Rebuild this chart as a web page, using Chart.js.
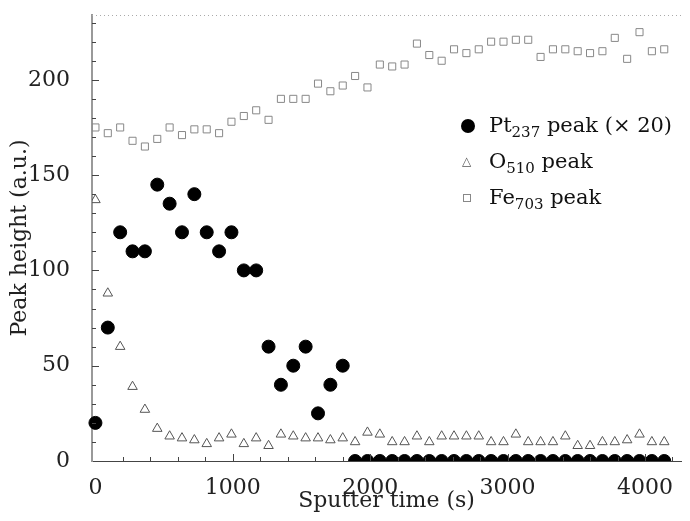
<!DOCTYPE html>
<html>
<head>
<meta charset="utf-8">
<script src="https://cdn.jsdelivr.net/npm/chart.js@4"></script>
<style>
  body { margin: 0; background: #fff; }
  #marco { position: relative; width: 690px; height: 521px; }
  #leyenda { position: absolute; left: 461px; top: 107px; font-family: "DejaVu Serif", serif; font-size: 21px; color: #111; line-height: 36px; }
  #leyenda sub { font-size: 15px; vertical-align: -5px; line-height: 0; }
  .simbolo { display: inline-block; width: 28px; text-align: left; }
  .circ { display: inline-block; width: 14px; height: 14px; border-radius: 50%; background: #000; vertical-align: -1px; }
  .tri { display: inline-block; font-size: 12px; color: #555; vertical-align: 3px; margin-left: 1px; }
  .cuad { display: inline-block; width: 6px; height: 6px; border: 1px solid #888; vertical-align: 2px; margin-left: 2px; }
</style>
</head>
<body>
<div id="marco">
  <canvas id="grafico" width="690" height="521"></canvas>
  <div id="leyenda">
    <div><span class="simbolo"><span class="circ"></span></span>Pt<sub>237</sub> peak (× 20)</div>
    <div><span class="simbolo"><span class="tri">△</span></span>O<sub>510</sub> peak</div>
    <div><span class="simbolo"><span class="cuad"></span></span>Fe<sub>703</sub> peak</div>
  </div>
</div>
<script>
const tiempos = [0, 90, 180, 270, 360, 450, 540, 630, 720, 810,
    900, 990, 1080, 1170, 1260, 1350, 1440, 1530, 1620, 1710,
    1800, 1890, 1980, 2070, 2160, 2250, 2340, 2430, 2520, 2610,
    2700, 2790, 2880, 2970, 3060, 3150, 3240, 3330, 3420, 3510,
    3600, 3690, 3780, 3870, 3960, 4050, 4140];

const picoPt = [20, 70, 120, 110, 110, 145, 135, 120, 140, 120,
    110, 120, 100, 100, 60, 40, 50, 60, 25, 40,
    50, 0, 0, 0, 0, 0, 0, 0, 0, 0,
    0, 0, 0, 0, 0, 0, 0, 0, 0, 0,
    0, 0, 0, 0, 0, 0, 0];

const picoO = [137, 88, 60, 39, 27, 17, 13, 12, 11, 9,
    12, 14, 9, 12, 8, 14, 13, 12, 12, 11,
    12, 10, 15, 14, 10, 10, 13, 10, 13, 13,
    13, 13, 10, 10, 14, 10, 10, 10, 13, 8,
    8, 10, 10, 11, 14, 10, 10];

const picoFe = [175, 172, 175, 168, 165, 169, 175, 171, 174, 174,
    172, 178, 181, 184, 179, 190, 190, 190, 198, 194,
    197, 202, 196, 208, 207, 208, 219, 213, 210, 216,
    214, 216, 220, 220, 221, 221, 212, 216, 216, 215,
    214, 215, 222, 211, 225, 215, 216];

const ticksX = [0, 1000, 2000, 3000, 4000];
const ticksY = [0, 50, 100, 150, 200];

const fuente = { family: '"DejaVu Serif", serif', size: 22 };

function puntos(valores) {
    return tiempos.map((t, i) => ({ x: t, y: valores[i] }));
}

// marcas pequeñas hacia adentro y borde superior punteado
const marcasInternas = {
    id: 'marcasInternas',
    afterDatasetsDraw(chart) {
        const { ctx, chartArea, scales: { x, y } } = chart;
        ctx.save();
        ctx.strokeStyle = '#444';
        ctx.lineWidth = 1;
        ctx.beginPath();
        for (let v = 10; v <= 230; v += 10) {
            const py = Math.round(y.getPixelForValue(v)) + 0.5;
            const largo = v % 50 === 0 ? 7 : 4;
            ctx.moveTo(chartArea.left, py);
            ctx.lineTo(chartArea.left + largo, py);
        }
        for (let v = 200; v <= 4200; v += 200) {
            const px = Math.round(x.getPixelForValue(v)) + 0.5;
            const largo = v % 1000 === 0 ? 7 : 4;
            ctx.moveTo(px, chartArea.bottom);
            ctx.lineTo(px, chartArea.bottom - largo);
        }
        ctx.stroke();

        ctx.strokeStyle = '#aaa';
        ctx.setLineDash([1, 3]);
        ctx.beginPath();
        ctx.moveTo(chartArea.left, chartArea.top + 0.5);
        ctx.lineTo(chartArea.right, chartArea.top + 0.5);
        ctx.stroke();
        ctx.restore();
    }
};

const ctx = document.getElementById('grafico').getContext('2d');

new Chart(ctx, {
    type: 'scatter',
    data: {
        datasets: [
            {
                label: 'Fe703 peak',
                data: puntos(picoFe),
                pointStyle: 'rect',
                pointRadius: 5,
                borderColor: '#888',
                borderWidth: 1,
                backgroundColor: 'rgba(255,255,255,0)'
            },
            {
                label: 'O510 peak',
                data: puntos(picoO),
                pointStyle: 'triangle',
                pointRadius: 5.5,
                borderColor: '#555',
                borderWidth: 1,
                backgroundColor: 'rgba(255,255,255,0)'
            },
            {
                label: 'Pt237 peak (x 20)',
                data: puntos(picoPt),
                pointStyle: 'circle',
                pointRadius: 6.5,
                borderColor: '#000',
                backgroundColor: '#000',
                clip: { left: false, top: false, right: false, bottom: 0 }
            }
        ]
    },
    options: {
        responsive: false,
        animation: false,
        devicePixelRatio: 1,
        layout: { padding: { top: 15, right: 9, left: 0, bottom: 0 } },
        plugins: {
            legend: { display: false },
            tooltip: { enabled: false }
        },
        scales: {
            x: {
                type: 'linear',
                min: -25,
                max: 4262,
                afterBuildTicks: s => { s.ticks = ticksX.map(v => ({ value: v })); },
                afterFit: s => { s.height = 60; s.paddingLeft = 0; s.paddingRight = 0; },
                grid: { display: false },
                border: { color: '#444', width: 1 },
                ticks: { font: fuente, color: '#222', padding: 6, maxRotation: 0, callback: v => String(v) },
                title: { display: true, text: 'Sputter time (s)', font: fuente, color: '#222', padding: { top: 7, bottom: 7 } }
            },
            y: {
                type: 'linear',
                min: 0,
                max: 234,
                afterBuildTicks: s => { s.ticks = ticksY.map(v => ({ value: v })); },
                afterFit: s => { s.width = 92; s.paddingTop = 0; s.paddingBottom = 0; },
                grid: { display: false },
                border: { color: '#999', width: 2 },
                ticks: { font: fuente, color: '#222', padding: 14, callback: v => String(v) },
                title: { display: true, text: 'Peak height (a.u.)', font: fuente, color: '#222', padding: { top: 7, bottom: 7 } }
            }
        }
    },
    plugins: [marcasInternas]
});
</script>
</body>
</html>
